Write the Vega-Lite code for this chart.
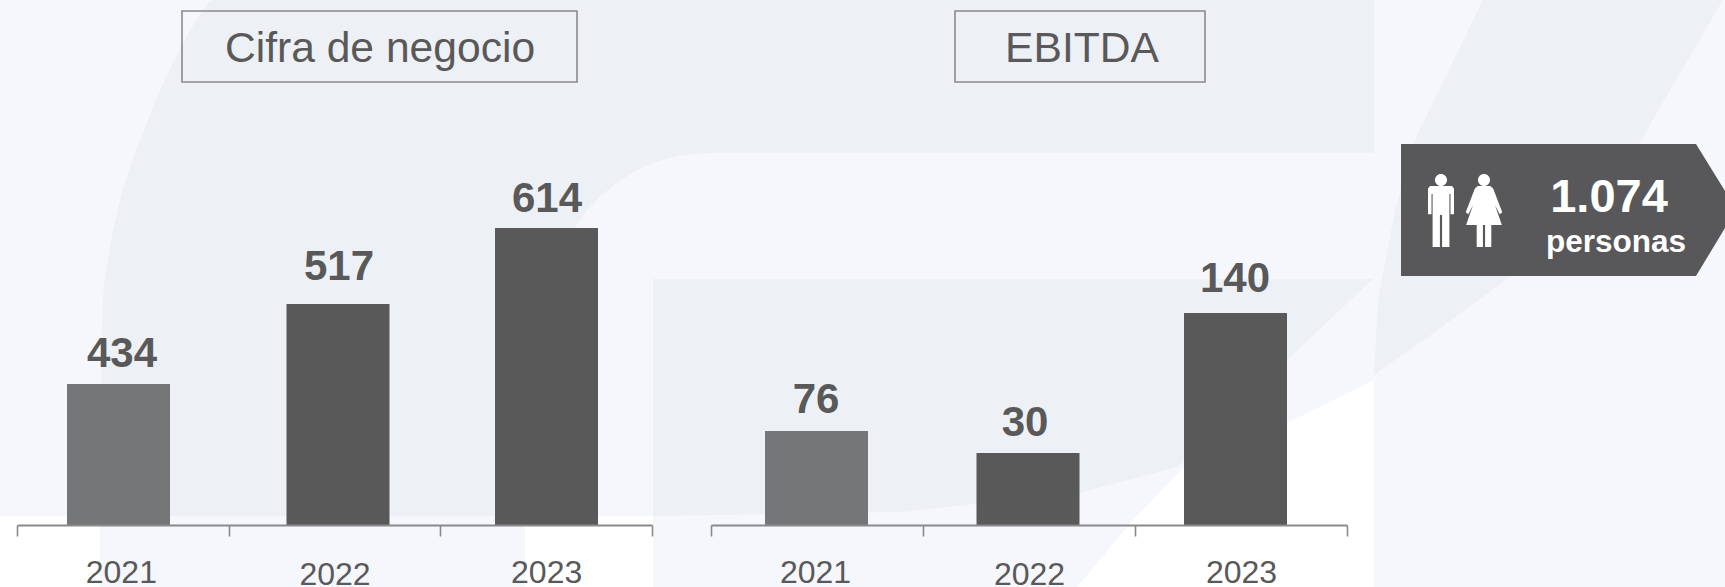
{
"$schema":"https://vega.github.io/schema/vega-lite/v6.json",
"width":1725,"height":587,"padding":0,"autosize":{"type":"none"},
"background":"#f5f7fc",
"config":{"view":{"stroke":null},"font":"Liberation Sans","text":{"font":"Liberation Sans"}},
"datasets":{
"sales":[{"year":2021,"value":434},{"year":2022,"value":517},{"year":2023,"value":614}],
"ebitda":[{"year":2021,"value":76},{"year":2022,"value":30},{"year":2023,"value":140}]
},
"resolve":{"scale":{"x":"independent","y":"independent"},"axis":{"x":"independent","y":"independent"}},
"layer":[
{"layer":[
 {"data":{"values":[{"x":0,"x2":100,"y":516,"y2":587},{"x":525,"x2":653,"y":516,"y2":587}]},
  "mark":{"type":"rect","fill":"#ffffff"},
  "encoding":{"x":{"field":"x","type":"quantitative","axis":null,"scale":{"domain":[0,1725],"range":[0,1725],"nice":false,"zero":false,"padding":0}},"x2":{"field":"x2"},
   "y":{"field":"y","type":"quantitative","axis":null,"scale":{"domain":[0,587],"range":[0,587],"nice":false,"zero":false,"padding":0}},"y2":{"field":"y2"}}},
 {"data":{"values":[{"x":1077,"t":587,"b":587},{"x":1133,"t":520,"b":587},{"x":1184,"t":467,"b":587},{"x":1287,"t":423,"b":587},{"x":1374,"t":380,"b":587}]},
  "mark":{"type":"area","fill":"#ffffff"},
  "encoding":{"x":{"field":"x","type":"quantitative","axis":null},"y":{"field":"t","type":"quantitative","axis":null},"y2":{"field":"b"}}},
 {"data":{"values":[
   {"x":100,"t":516,"b":516},{"x":101,"t":400,"b":516},{"x":103,"t":300,"b":516},{"x":108,"t":260,"b":516},{"x":117,"t":213,"b":516},{"x":130,"t":167,"b":516},{"x":143,"t":133,"b":516},{"x":160,"t":90,"b":516},{"x":177,"t":55,"b":516},{"x":200,"t":15,"b":516},{"x":213,"t":0,"b":516},{"x":525,"t":0,"b":516}]},
  "mark":{"type":"area","fill":"#edf0f5","interpolate":"monotone"},
  "encoding":{"x":{"field":"x","type":"quantitative","axis":null},"y":{"field":"t","type":"quantitative","axis":null},"y2":{"field":"b"}}},
 {"data":{"values":[
   {"x":525,"t":0,"b":516},{"x":530,"t":0,"b":400},{"x":540,"t":0,"b":330},{"x":555,"t":0,"b":270},{"x":577,"t":0,"b":225},{"x":597,"t":0,"b":200},{"x":617,"t":0,"b":183},{"x":653,"t":0,"b":163},{"x":710,"t":0,"b":153},{"x":1374,"t":0,"b":153}]},
  "mark":{"type":"area","fill":"#edf0f5","interpolate":"monotone"},
  "encoding":{"x":{"field":"x","type":"quantitative","axis":null},"y":{"field":"t","type":"quantitative","axis":null},"y2":{"field":"b"}}},
 {"data":{"values":[
   {"x":653,"t":279,"b":516},{"x":900,"t":279,"b":512},{"x":1079,"t":279,"b":493},{"x":1177,"t":279,"b":467},{"x":1287,"t":279,"b":360},{"x":1372,"t":279,"b":280}]},
  "mark":{"type":"area","fill":"#edf0f5"},
  "encoding":{"x":{"field":"x","type":"quantitative","axis":null},"y":{"field":"t","type":"quantitative","axis":null},"y2":{"field":"b"}}},
 {"data":{"values":[
   {"x":1374,"t":375,"b":375},{"x":1378,"t":300,"b":372},{"x":1395,"t":210,"b":360},{"x":1417,"t":135,"b":345},{"x":1483,"t":0,"b":297},{"x":1510,"t":0,"b":277},{"x":1640,"t":0,"b":142},{"x":1683,"t":0,"b":68},{"x":1723,"t":0,"b":0}]},
  "mark":{"type":"area","fill":"#edf0f5"},
  "encoding":{"x":{"field":"x","type":"quantitative","axis":null},"y":{"field":"t","type":"quantitative","axis":null},"y2":{"field":"b"}}},
 {"data":{"values":[{"x":182,"x2":577,"y":11,"y2":82},{"x":955,"x2":1205,"y":11,"y2":82}]},
  "mark":{"type":"rect","fillOpacity":0,"stroke":"#8a8a8a","strokeWidth":1.6},
  "encoding":{"x":{"field":"x","type":"quantitative","axis":null},"x2":{"field":"x2"},"y":{"field":"y","type":"quantitative","axis":null},"y2":{"field":"y2"}}},
 {"data":{"values":[{"x":380,"y":62,"label":"Cifra de negocio"},{"x":1082,"y":62,"label":"EBITDA"}]},
  "mark":{"type":"text","fontSize":42.6,"color":"#595959","align":"center","baseline":"alphabetic"},
  "encoding":{"x":{"field":"x","type":"quantitative","axis":null},"y":{"field":"y","type":"quantitative","axis":null},"text":{"field":"label"}}},
 {"data":{"values":[{"x":1401,"t":144,"b":276},{"x":1696,"t":144,"b":276},{"x":1725,"t":191,"b":228}]},
  "mark":{"type":"area","fill":"#58585a"},
  "encoding":{"x":{"field":"x","type":"quantitative","axis":null},"y":{"field":"t","type":"quantitative","axis":null},"y2":{"field":"b"}}},
 {"data":{"values":[{"x":1441,"y":210.5}]},
  "mark":{"type":"point","filled":true,"fill":"#ffffff","opacity":1,"strokeWidth":0,"size":5329,"shape":"M-.3,-.67 L.3,-.67 L.356,-.6 L.356,.1 L.26,.1 L.26,-.45 L.23,-.45 L.23,1 L.03,1 L.03,.12 L-.03,.12 L-.03,1 L-.23,1 L-.23,-.45 L-.26,-.45 L-.26,.1 L-.356,.1 L-.356,-.6 Z M-.165,-.835 A.165,.165 0 1 1 .165,-.835 A.165,.165 0 1 1 -.165,-.835 Z"},
  "encoding":{"x":{"field":"x","type":"quantitative","axis":null},"y":{"field":"y","type":"quantitative","axis":null}}},
 {"data":{"values":[{"x":1484,"y":210.5}]},
  "mark":{"type":"point","filled":true,"fill":"#ffffff","opacity":1,"strokeWidth":0,"size":5329,"shape":"M-.17,-.67 L.17,-.67 L.25,-.6 L.5,.05 L.43,.1 L.3,-.15 L.49,.4 L.2,.4 L.2,1 L.03,1 L.03,.4 L-.03,.4 L-.03,1 L-.2,1 L-.2,.4 L-.49,.4 L-.3,-.15 L-.43,.1 L-.5,.05 L-.25,-.6 Z M-.165,-.835 A.165,.165 0 1 1 .165,-.835 A.165,.165 0 1 1 -.165,-.835 Z"},
  "encoding":{"x":{"field":"x","type":"quantitative","axis":null},"y":{"field":"y","type":"quantitative","axis":null}}},
 {"data":{"values":[{"x":1609,"y":212,"label":"1.074","size":47},{"x":1616,"y":252,"label":"personas","size":31.5}]},
  "mark":{"type":"text","fontWeight":"bold","color":"#ffffff","align":"center","baseline":"alphabetic"},
  "encoding":{"x":{"field":"x","type":"quantitative","axis":null},"y":{"field":"y","type":"quantitative","axis":null},"text":{"field":"label"},"size":{"field":"size","type":"quantitative","scale":null,"legend":null}}}
]},
{"data":{"name":"sales"},"mark":{"type":"rule","opacity":0},
 "encoding":{"x":{"field":"year","type":"ordinal","scale":{"type":"band","domain":[2021,2022,2023],"range":[17,652],"paddingInner":0,"paddingOuter":0},
  "axis":{"title":null,"orient":"bottom","offset":-62,"zindex":1,"domainColor":"#8a8a8a","domainWidth":1.8,"tickColor":"#8a8a8a","tickWidth":1.6,"tickSize":11,"tickBand":"extent","labelAngle":0,"labelColor":"#595959","labelFont":"Liberation Sans","labelFontSize":32,"labelBaseline":"alphabetic","labelFlush":false,"labelOverlap":false,
  "labelPadding":{"condition":{"test":"datum.value==2022","value":48},"value":46},"labelOffset":{"condition":{"test":"datum.value==2021","value":-2},"value":0}}}}},
{"data":{"name":"ebitda"},"mark":{"type":"rule","opacity":0},
 "encoding":{"x":{"field":"year","type":"ordinal","scale":{"type":"band","domain":[2021,2022,2023],"range":[711,1347],"paddingInner":0,"paddingOuter":0},
  "axis":{"title":null,"orient":"bottom","offset":-62,"zindex":1,"domainColor":"#8a8a8a","domainWidth":1.8,"tickColor":"#8a8a8a","tickWidth":1.6,"tickSize":11,"tickBand":"extent","labelAngle":0,"labelColor":"#595959","labelFont":"Liberation Sans","labelFontSize":32,"labelBaseline":"alphabetic","labelFlush":false,"labelOverlap":false,
  "labelPadding":{"condition":{"test":"datum.value==2022","value":48},"value":46},"labelOffset":{"condition":{"test":"datum.value==2021","value":-2},"value":0}}}}},
{"data":{"name":"sales"},"mark":{"type":"bar","width":103},
 "encoding":{"x":{"field":"year","type":"quantitative","axis":null,"scale":{"domain":[2021,2022,2023],"range":[118.5,338,546.5],"zero":false,"nice":false,"padding":0}},
  "y":{"field":"value","type":"quantitative","axis":null,"scale":{"domain":[0,434,517,614],"range":[525,384,304,228],"nice":false}},
  "color":{"field":"year","type":"ordinal","legend":null,"scale":{"domain":[2021,2022,2023],"range":["#757677","#595959","#595959"]}}}},
{"data":{"name":"ebitda"},"mark":{"type":"bar","width":103},
 "encoding":{"x":{"field":"year","type":"quantitative","axis":null,"scale":{"domain":[2021,2022,2023],"range":[816.5,1028,1235.5],"zero":false,"nice":false,"padding":0}},
  "y":{"field":"value","type":"quantitative","axis":null,"scale":{"domain":[0,30,76,140],"range":[525,453,431,313],"nice":false}},
  "color":{"field":"year","type":"ordinal","legend":null,"scale":{"domain":[2021,2022,2023],"range":["#757677","#595959","#595959"]}}}},
{"data":{"name":"sales"},"mark":{"type":"text","fontSize":42,"fontWeight":"bold","color":"#595959","align":"center","baseline":"alphabetic"},
 "encoding":{"x":{"field":"year","type":"quantitative","axis":null,"scale":{"domain":[2021,2022,2023],"range":[122,339,547],"zero":false,"nice":false}},
  "y":{"field":"value","type":"quantitative","axis":null,"scale":{"domain":[0,434,517,614],"range":[525,367,280,212],"nice":false}},
  "text":{"field":"value","type":"quantitative"}}},
{"data":{"name":"ebitda"},"mark":{"type":"text","fontSize":42,"fontWeight":"bold","color":"#595959","align":"center","baseline":"alphabetic"},
 "encoding":{"x":{"field":"year","type":"quantitative","axis":null,"scale":{"domain":[2021,2022,2023],"range":[816,1025,1235],"zero":false,"nice":false}},
  "y":{"field":"value","type":"quantitative","axis":null,"scale":{"domain":[0,30,76,140],"range":[525,436,413,292],"nice":false}},
  "text":{"field":"value","type":"quantitative"}}}
]
}
